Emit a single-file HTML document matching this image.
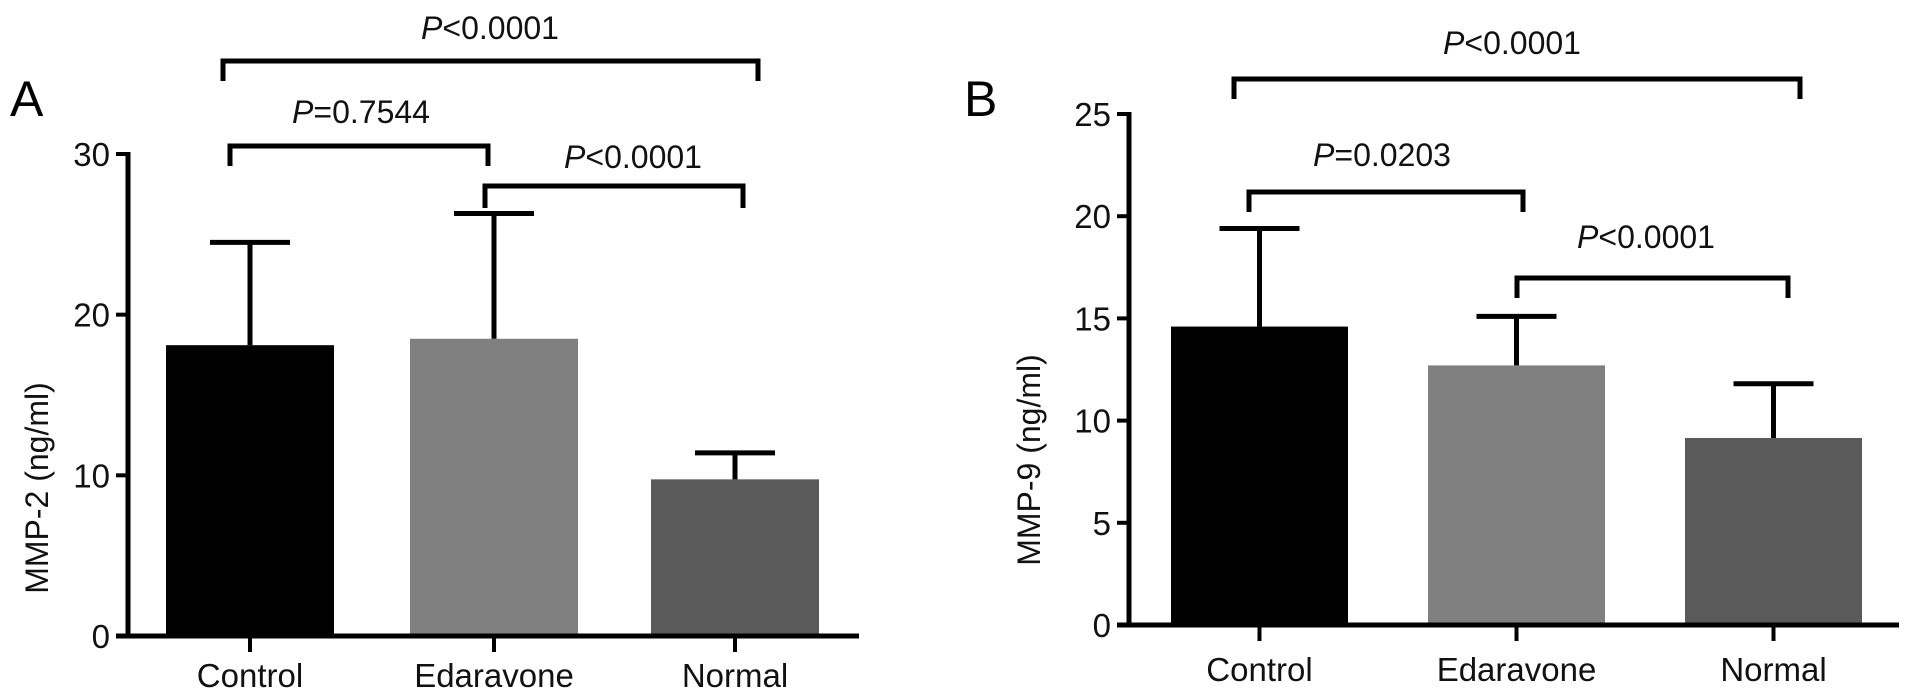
<!DOCTYPE html>
<html><head><meta charset="utf-8"><style>
html,body{margin:0;padding:0;background:#fff;overflow:hidden;}
svg{display:block;font-family:"Liberation Sans",Arial,sans-serif;}
</style></head><body>
<svg id="fig" width="1913" height="697" viewBox="0 0 1913 697" xmlns="http://www.w3.org/2000/svg"></svg>
<script>
const categories = ["Control","Edaravone","Normal"];
const mmp2Values = [18.1, 18.5, 9.75];
const mmp2Errors = [24.5, 26.3, 11.4];
const mmp2Ticks = [0,10,20,30];
const mmp9Values = [14.6, 12.7, 9.15];
const mmp9Errors = [19.4, 15.1, 11.8];
const mmp9Ticks = [0,5,10,15,20,25];
const barColors = ["#000000","#808080","#5a5a5a"];

const NS="http://www.w3.org/2000/svg";
const svg=document.getElementById('fig');
function mk(tag,attrs,parent,text){const e=document.createElementNS(NS,tag);for(const k in attrs)e.setAttribute(k,attrs[k]);if(text!==undefined)e.textContent=text;(parent||svg).appendChild(e);return e;}

function panel(cfg){
  const g=mk('g',{});
  
  
  const y=v=>cfg.y0-(v/cfg.ymax)*(cfg.y0-cfg.yTop);
  const L=mk('text',{x:cfg.letterX,y:cfg.letterY,'font-size':50,fill:'#000'},g,cfg.letter);
  
  
  cfg.values.forEach((v,i)=>{
    const x=cfg.barX[i];
    const r=mk('rect',{x:x,y:y(v),width:cfg.barW,height:cfg.y0-y(v),fill:barColors[i]},g);
    
    
    const cx=x+cfg.barW/2;
    const e=mk('path',{d:`M${cx} ${y(v)}V${y(cfg.errs[i])}M${cx-40} ${y(cfg.errs[i])}H${cx+40}`,stroke:'#000','stroke-width':5,fill:'none'},g);
    
    
    const tk=mk('line',{x1:cx,x2:cx,y1:cfg.y0,y2:cfg.y0+16,stroke:'#000','stroke-width':4},g);
    
    
    const t=mk('text',{x:cx,y:cfg.labelY,'font-size':33,'text-anchor':'middle',fill:'#111'},g,categories[i]);
    
    
  });
  const ax=mk('path',{d:`M${cfg.axX} ${cfg.yTop-2}V${cfg.y0}M${cfg.axX-12} ${cfg.y0}H${cfg.axEnd}`,stroke:'#000','stroke-width':5,fill:'none'},g);
  
  
  cfg.ticks.forEach(t=>{
    const l=mk('line',{x1:cfg.axX-12,x2:cfg.axX,y1:y(t),y2:y(t),stroke:'#000','stroke-width':4},g);
    
    
    const tx=mk('text',{x:cfg.axX-18,y:y(t)+12,'font-size':33,'text-anchor':'end',fill:'#111'},g,String(t));
    
    
  });
  const yt=mk('text',{x:0,y:0,'font-size':32,'text-anchor':'middle',fill:'#111',transform:`translate(${cfg.titleX},${cfg.titleY}) rotate(-90)`},g,cfg.title);
  
  
  cfg.brackets.forEach(b=>{
    const p=mk('path',{d:`M${b.x1} ${b.y+b.d}V${b.y}H${b.x2}V${b.y+b.d}`,stroke:'#000','stroke-width':5,fill:'none'},g);
    
    
    const t=mk('text',{x:b.tx,y:b.ty,'font-size':32,'text-anchor':'middle',fill:'#111'},g);
    
    
    mk('tspan',{'font-style':'italic'},t,'P');
    mk('tspan',{},t,b.label);
  });
}

panel({name:'panel-a-mmp2',letter:'A',letterX:10,letterY:116,values:mmp2Values,errs:mmp2Errors,ticks:mmp2Ticks,ymax:30,
  y0:636,yTop:154,axX:128,axEnd:859,barX:[166,410,651],barW:168,labelY:687,title:'MMP-2 (ng/ml)',titleX:48,titleY:488,
  brackets:[{x1:223,x2:758,y:61,d:20,tx:490,ty:39,label:'<0.0001'},
            {x1:230,x2:488,y:146,d:20,tx:361,ty:123,label:'=0.7544'},
            {x1:485,x2:743,y:186,d:22,tx:633,ty:168,label:'<0.0001'}]});
panel({name:'panel-b-mmp9',letter:'B',letterX:964,letterY:116,values:mmp9Values,errs:mmp9Errors,ticks:mmp9Ticks,ymax:25,
  y0:625,yTop:114,axX:1129,axEnd:1899,barX:[1171,1428,1685],barW:177,labelY:681,title:'MMP-9 (ng/ml)',titleX:1040,titleY:460,
  brackets:[{x1:1234,x2:1800,y:79,d:20,tx:1512,ty:54,label:'<0.0001'},
            {x1:1249,x2:1523,y:192,d:20,tx:1382,ty:166,label:'=0.0203'},
            {x1:1517,x2:1788,y:278,d:20,tx:1646,ty:248,label:'<0.0001'}]});
</script>
</body></html>
